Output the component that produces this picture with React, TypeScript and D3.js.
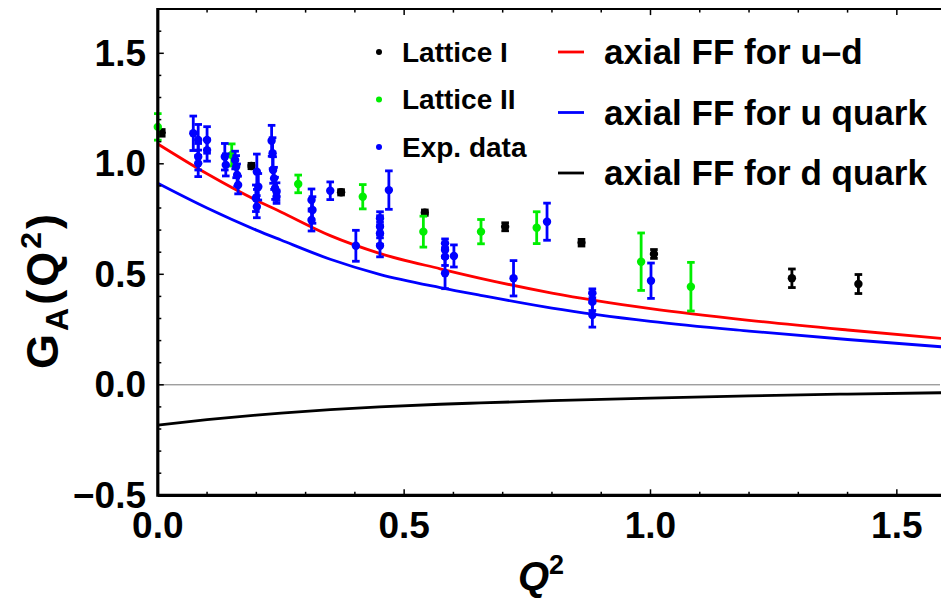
import React from "react";
import * as d3 from "d3";

// ---------- data ----------
const curveQ2 = [0, 0.1, 0.2, 0.25, 0.35, 0.45, 0.573, 0.655, 0.8, 1.0, 1.2, 1.4, 1.59];
const ffUminusD = [1.09, 0.955, 0.835, 0.782, 0.675, 0.595, 0.525, 0.482, 0.415, 0.345, 0.292, 0.248, 0.21];
const ffU = [0.912, 0.8, 0.7, 0.655, 0.568, 0.5, 0.44, 0.405, 0.347, 0.287, 0.243, 0.205, 0.172];
const ffD = [-0.182, -0.158, -0.137, -0.128, -0.112, -0.1, -0.088, -0.082, -0.072, -0.06, -0.05, -0.042, -0.036];

const latticeIQ2 = [0.008, 0.19, 0.372, 0.542, 0.705, 0.86, 1.007, 1.287, 1.422];
const latticeIGA = [1.14, 0.99, 0.871, 0.779, 0.715, 0.643, 0.592, 0.482, 0.456];
const latticeIErr = [0.015, 0.012, 0.012, 0.012, 0.018, 0.015, 0.02, 0.042, 0.043];

const latticeIIQ2 = [0, 0.15, 0.285, 0.416, 0.539, 0.656, 0.769, 0.981, 1.082];
const latticeIIGA = [1.167, 1.04, 0.909, 0.851, 0.693, 0.693, 0.711, 0.557, 0.444];
const latticeIIErr = [0.06, 0.05, 0.04, 0.055, 0.07, 0.055, 0.072, 0.13, 0.11];

const expQ2 = [0.072, 0.082, 0.082, 0.082, 0.1, 0.1, 0.136, 0.138, 0.157, 0.159, 0.161, 0.163,
  0.201, 0.204, 0.199, 0.201, 0.231, 0.233, 0.234, 0.236, 0.238, 0.241, 0.241,
  0.312, 0.314, 0.312, 0.35, 0.402, 0.451, 0.451, 0.451, 0.451, 0.469,
  0.583, 0.583, 0.583, 0.583, 0.601, 0.722, 0.79, 0.882, 0.882, 0.882, 1.001];
const expGA = [1.138, 1.108, 1.032, 1.002, 1.108, 1.062, 1.032, 0.995, 1.017, 0.987, 0.949, 0.904,
  0.964, 0.896, 0.844, 0.806, 1.104, 1.048, 0.972, 0.934, 0.889, 0.874, 0.851,
  0.836, 0.791, 0.746, 0.878, 0.629, 0.753, 0.715, 0.686, 0.629, 0.881,
  0.64, 0.61, 0.58, 0.505, 0.583, 0.482, 0.738, 0.414, 0.376, 0.316, 0.471];
const expErr = [0.078, 0.07, 0.06, 0.06, 0.06, 0.05, 0.06, 0.05, 0.04, 0.05, 0.05, 0.04,
  0.08, 0.06, 0.06, 0.05, 0.07, 0.07, 0.06, 0.05, 0.05, 0.04, 0.03,
  0.05, 0.06, 0.05, 0.04, 0.07, 0.03, 0.05, 0.05, 0.05, 0.087,
  0.02, 0.03, 0.04, 0.07, 0.05, 0.08, 0.084, 0.02, 0.04, 0.055, 0.08];

const xTicks = [0, 0.5, 1.0, 1.5];
const yTicks = [-0.5, 0, 0.5, 1.0, 1.5];
const pointLegend = ["Lattice I", "Lattice II", "Exp. data"];
const lineLegend = ["axial FF for u\u2013d", "axial FF for u quark", "axial FF for d quark"];

const W = 941, H = 603;
const FONT = "'Liberation Sans', Arial, sans-serif";

export default function App() {
  const x = d3.scaleLinear().domain([0, 1.5876]).range([157.8, 940]);
  const y = d3.scaleLinear().domain([-0.5, 1.7]).range([495.3, 9.1]);

  const line = d3.line<number>()
    .x((_, i) => x(curveQ2[i]))
    .y((d) => y(d))
    .curve(d3.curveMonotoneX);

  const minorX = d3.range(0, 1.59, 0.1);
  const minorY = d3.range(-0.5, 1.701, 0.1);

  const errBars = (qs: number[], gs: number[], es: number[], color: string, key: string) =>
    qs.map((q, i) => {
      const cx = x(q);
      const y1 = y(gs[i] + es[i]);
      const y2 = y(gs[i] - es[i]);
      return (
        <g key={key + i}>
          <line x1={cx} x2={cx} y1={y1} y2={y2} stroke={color} strokeWidth={2.8} />
          <line x1={cx - 3.8} x2={cx + 3.8} y1={y1} y2={y1} stroke={color} strokeWidth={2.8} />
          <line x1={cx - 3.8} x2={cx + 3.8} y1={y2} y2={y2} stroke={color} strokeWidth={2.8} />
          <circle cx={cx} cy={y(gs[i])} r={4.2} fill={color} />
        </g>
      );
    });

  const curveColors = ["#ff0000", "#0000ff", "#000000"];
  const curveData = [ffUminusD, ffU, ffD];
  const pointColors = ["#000000", "#00ee00", "#0000ff"];

  return (
    <svg width={W} height={H} style={{ position: "absolute", left: 0, top: 0, background: "#fff" }}>
      {/* zero line */}
      <line x1={x(0)} x2={940} y1={y(0)} y2={y(0)} stroke="#777" strokeWidth={1} />

      {/* curves */}
      {curveData.map((c, k) => (
        <path key={"c" + k} d={line(c) || ""} fill="none" stroke={curveColors[k]} strokeWidth={2.8} />
      ))}

      {/* data points */}
      {errBars(latticeIQ2, latticeIGA, latticeIErr, "#000000", "l1")}
      {errBars(latticeIIQ2, latticeIIGA, latticeIIErr, "#00ee00", "l2")}
      {errBars(expQ2, expGA, expErr, "#0000ff", "ex")}

      {/* frame */}
      <line x1={157.8} x2={941} y1={9.1} y2={9.1} stroke="#000" strokeWidth={2} />
      <line x1={157.8} x2={941} y1={495.3} y2={495.3} stroke="#000" strokeWidth={3.2} />
      <line x1={157.8} x2={157.8} y1={8} y2={496.8} stroke="#000" strokeWidth={3.2} />

      {/* x ticks */}
      {minorX.map((t, i) => {
        const major = Math.abs(t * 2 - Math.round(t * 2)) < 1e-6;
        const len = major ? 6 : 3.5;
        return (
          <g key={"xt" + i}>
            <line x1={x(t)} x2={x(t)} y1={495.3} y2={495.3 - len} stroke="#000" strokeWidth={1.5} />
            <line x1={x(t)} x2={x(t)} y1={9.1} y2={9.1 + len} stroke="#000" strokeWidth={1.5} />
          </g>
        );
      })}
      {/* y ticks */}
      {minorY.map((t, i) => {
        const major = Math.abs(t * 2 - Math.round(t * 2)) < 1e-6;
        const len = major ? 6 : 3.5;
        return <line key={"yt" + i} x1={157.8} x2={157.8 + len} y1={y(t)} y2={y(t)} stroke="#000" strokeWidth={1.5} />;
      })}

      {/* tick labels */}
      {xTicks.map((t) => (
        <text key={"xl" + t} x={x(t)} y={538} textAnchor="middle" fontFamily={FONT} fontWeight="bold" fontSize={37}>
          {t.toFixed(1)}
        </text>
      ))}
      {yTicks.map((t) => (
        <text key={"yl" + t} x={146} y={y(t)} dy="0.33em" textAnchor="end" fontFamily={FONT} fontWeight="bold" fontSize={37}>
          {t < 0 ? "\u2212" + Math.abs(t).toFixed(1) : t.toFixed(1)}
        </text>
      ))}

      {/* axis titles */}
      <text x={541} y={590} textAnchor="middle" fontFamily={FONT} fontWeight="bold" fontStyle="italic" fontSize={40}>
        Q<tspan dy={-16} fontSize={27} fontStyle="normal">2</tspan>
      </text>
      <text transform="translate(58,290) rotate(-90)" textAnchor="middle" fontFamily={FONT} fontWeight="bold" fontSize={45} letterSpacing={3}>
        G<tspan dy={10} fontSize={32}>A</tspan>
        <tspan dy={-10}>(Q</tspan>
        <tspan dy={-17} fontSize={30}>2</tspan>
        <tspan dy={17}>)</tspan>
      </text>

      {/* legend: points */}
      {pointLegend.map((s, i) => (
        <g key={"pl" + i}>
          <circle cx={379} cy={52 + i * 47.5} r={3} fill={pointColors[i]} />
          <text x={402} y={52 + i * 47.5} dy="0.35em" fontFamily={FONT} fontWeight="bold" fontSize={28}>{s}</text>
        </g>
      ))}
      {/* legend: lines */}
      {lineLegend.map((s, i) => (
        <g key={"ll" + i}>
          <line x1={558} x2={584} y1={52 + i * 60.5} y2={52 + i * 60.5} stroke={curveColors[i]} strokeWidth={2.8} />
          <text x={604} y={52 + i * 60.5} dy="0.35em" fontFamily={FONT} fontWeight="bold" fontSize={35}>{s}</text>
        </g>
      ))}
    </svg>
  );
}
